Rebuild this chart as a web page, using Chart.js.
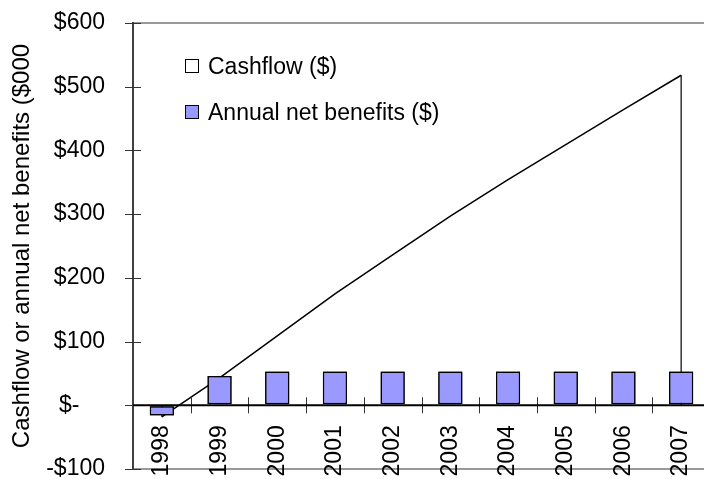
<!DOCTYPE html>
<html>
<head>
<meta charset="utf-8">
<script src="https://cdn.jsdelivr.net/npm/chart.js@4"></script>
<style>
  html, body { margin: 0; padding: 0; background: #fff; overflow: hidden; }
  #wrap { position: relative; width: 720px; height: 479px; }
  #legend { position: absolute; left: 185px; top: 0; font: 23px "Liberation Sans", Arial, sans-serif; color: #000; }
  .row { position: absolute; left: 0; height: 26px; display: flex; align-items: center; white-space: nowrap; }
  .box { width: 12px; height: 12px; border: 1px solid #000; margin-right: 9px; }
</style>
</head>
<body>
<div id="wrap">
  <canvas id="chart" width="720" height="479"></canvas>
  <div id="legend"></div>
</div>
<script>
// categories and series ($000)
const years = ['1998', '1999', '2000', '2001', '2002', '2003', '2004', '2005', '2006', '2007'];
const cashflow = [-18, 43, 109, 175, 236, 297, 354, 409, 464, 518];
const netBenefits = [-16, 46, 53, 53, 53, 53, 53, 53, 53, 53];
const yTickLabels = ['-$100', '$-', '$100', '$200', '$300', '$400', '$500', '$600'];

const FONT = { family: '"Liberation Sans", Arial, sans-serif', size: 23 };

// excel style axes: zero line and ticks crossing the axis, drawn on top of the marks
const excelAxes = {
  id: 'excelAxes',
  afterDatasetsDraw(chart) {
    const c = chart.ctx, a = chart.chartArea;
    const y = chart.scales.y;
    const y0 = y.getPixelForValue(0);
    c.save();
    // area edges down to zero at first and last point
    const pts = chart.getDatasetMeta(0).data;
    c.strokeStyle = '#000';
    c.lineWidth = 1.2;
    [pts[0], pts[pts.length - 1]].forEach(p => {
      c.beginPath(); c.moveTo(p.x, p.y); c.lineTo(p.x, y0); c.stroke();
    });
    // redraw the bars over those edges
    chart.getDatasetMeta(1).data.forEach(b => b.draw(c, a));
    // category boundary ticks
    const w = (a.right - a.left) / years.length;
    c.strokeStyle = '#333';
    c.lineWidth = 1;
    for (let i = 1; i <= years.length; i++) {
      const px = Math.round(a.left + i * w) + 0.5;
      c.beginPath(); c.moveTo(px, y0 - 8); c.lineTo(px, y0 + 8); c.stroke();
    }
    // value ticks across the left axis
    y.ticks.forEach(t => {
      const py = Math.round(y.getPixelForValue(t.value)) + 0.5;
      c.beginPath(); c.moveTo(a.left - 8, py); c.lineTo(a.left + 8, py); c.stroke();
    });
    // zero line
    c.strokeStyle = '#000';
    c.lineWidth = 2;
    c.beginPath(); c.moveTo(a.left, y0); c.lineTo(a.right, y0); c.stroke();
    c.restore();
  }
};

const chart = new Chart(document.getElementById('chart'), {
  data: {
    labels: years,
    datasets: [{
      type: 'line',
      label: 'Cashflow ($)',
      data: cashflow,
      borderColor: '#000',
      borderWidth: 1.5,
      backgroundColor: '#ffffff',
      fill: 'origin',
      pointRadius: 0,
      tension: 0,
      order: 2
    }, {
      type: 'bar',
      label: 'Annual net benefits ($)',
      data: netBenefits,
      backgroundColor: '#9999ff',
      borderColor: '#000',
      borderWidth: 1.5,
      borderSkipped: false,
      categoryPercentage: 1,
      barPercentage: 0.42,
      order: 1
    }]
  },
  options: {
    responsive: false,
    animation: false,
    layout: { padding: { top: 23, bottom: 10, right: 10, left: 0 } },
    plugins: { legend: { display: false }, tooltip: { enabled: false } },
    scales: {
      x: {
        position: { y: 0 },
        offset: true,
        grid: { drawOnChartArea: false, drawTicks: true, tickLength: 20, tickColor: 'transparent' },
        border: { display: false },
        ticks: {
          minRotation: 90, maxRotation: 90, padding: 0,
          color: '#000', font: FONT, autoSkip: false
        }
      },
      y: {
        min: -100, max: 600,
        afterFit: s => { s.width = 133; },
        ticks: {
          stepSize: 100, padding: 0, color: '#000',
          font: { family: FONT.family, size: 23, lineHeight: 0.8 },
          callback: (v, i) => yTickLabels[i] + (v === 0 ? '    ' : '')
        },
        grid: {
          drawTicks: true,
          tickLength: 28,
          tickColor: 'transparent',
          color: ctx => (ctx.tick.value === -100 || ctx.tick.value === 600) ? '#999' : 'transparent',
          lineWidth: 2
        },
        border: { color: '#404040', width: 2 },
        title: {
          display: true, text: 'Cashflow or annual net benefits ($000',
          color: '#000', font: { family: FONT.family, size: 24 }, padding: { top: 8, bottom: 0 }
        }
      }
    }
  },
  plugins: [excelAxes]
});

// legend inside the plot, built from the datasets
const legend = document.getElementById('legend');
const rowCentres = [66, 112];
chart.data.datasets.forEach((ds, i) => {
  const row = document.createElement('div');
  row.className = 'row';
  row.style.top = (rowCentres[i] - 13) + 'px';
  const box = document.createElement('span');
  box.className = 'box';
  box.style.background = ds.backgroundColor;
  row.appendChild(box);
  row.appendChild(document.createTextNode(ds.label));
  legend.appendChild(row);
});
</script>
</body>
</html>
